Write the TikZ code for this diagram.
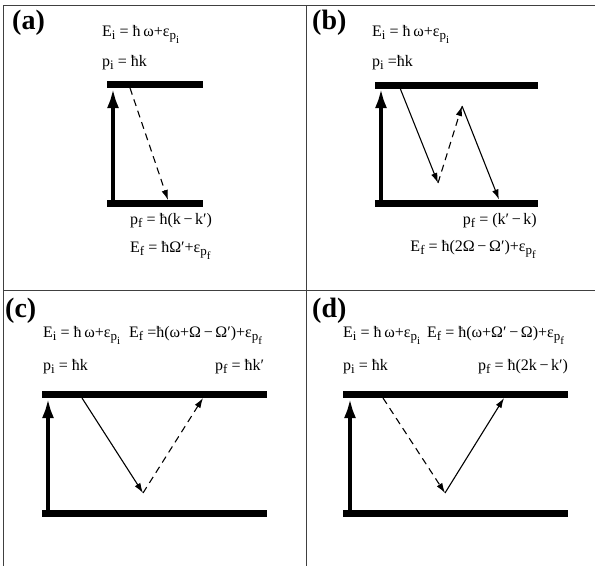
\documentclass[tikz,border=0pt]{standalone}
\usepackage{fontspec}
\setmainfont{Liberation Serif}
\usetikzlibrary{arrows.meta, positioning, calc}

\newcommand{\lsub}[1]{\raisebox{-3pt}{\fontsize{13}{13}\selectfont #1}}
\newcommand{\llsub}[1]{\raisebox{-4pt}{\fontsize{11}{11}\selectfont #1}}

\tikzset{
  levelbar/.style={line width=7pt},
  pump/.style={line width=4.5pt, -{Latex[length=20pt, width=12pt]}},
  emit/.style={line width=1.1pt, -{Latex[length=10pt, width=6.5pt]}},
  spont/.style={emit, dash pattern=on 7pt off 5pt},
  panelline/.style={line width=0.9pt, black!75},
  panellabel/.style={font=\fontsize{28}{28}\selectfont\bfseries, anchor=base west, inner sep=0pt},
  eqn/.style={font=\fontsize{16}{16}\selectfont, anchor=base west, inner sep=0pt},
}

\begin{document}
\begin{tikzpicture}[x=1pt, y=-1pt, line join=round]
        \useasboundingbox (0, 0) rectangle (595, 566);
        \coordinate (fTL) at (3, 5);
        \coordinate (fTR) at (595, 5);
        \coordinate (fBL) at (3, 566);
        \coordinate (fMT) at (306, 5);
        \coordinate (fMB) at (306, 566);
        \coordinate (fML) at (3, 290);
        \coordinate (fMR) at (595, 290);
        \draw[panelline] (fTR) -- (fTL) -- (fBL);
        \draw[panelline] (fMT) -- (fMB);
        \draw[panelline] (fML) -- (fMR);
        % (a)
        \coordinate (aTL) at (107, 84.5);  \coordinate (aTR) at (203, 84.5);
        \coordinate (aBL) at (107, 203.5); \coordinate (aBR) at (203, 203.5);
        \coordinate (aP0) at (113, 200);   \coordinate (aP1) at (113, 88);
        \coordinate (aE0) at (130, 88);    \coordinate (aE1) at (168, 200);
        \draw[levelbar] (aTL) -- (aTR);
        \draw[levelbar] (aBL) -- (aBR);
        \draw[pump] (aP0) -- (aP1);
        \draw[spont] (aE0) -- (aE1);
        \node[panellabel] (alab) at (12, 29) {(a)};
        \node[eqn] (aEi) at (102, 36) {E\lsub{i} = ħ\,ω+ε\lsub{p\llsub{i}}};
        \node[eqn] (api) at (102, 66) {p\lsub{i} = ħk};
        \node[eqn] (apf) at (130, 224) {p\lsub{f} = ħ(k\,−\,k′)};
        \node[eqn] (aEf) at (130, 252) {E\lsub{f} = ħΩ′+ε\lsub{p\llsub{f}}};
        % (b)
        \coordinate (bTL) at (375, 85);  \coordinate (bTR) at (538, 85);
        \coordinate (bBL) at (375, 203); \coordinate (bBR) at (538, 203);
        \coordinate (bP0) at (381, 200); \coordinate (bP1) at (381, 88);
        \coordinate (bE0) at (400, 88);  \coordinate (bE1) at (438, 183);
        \coordinate (bE2) at (462, 106); \coordinate (bE3) at (499, 199.5);
        \draw[levelbar] (bTL) -- (bTR);
        \draw[levelbar] (bBL) -- (bBR);
        \draw[pump] (bP0) -- (bP1);
        \draw[emit] (bE0) -- (bE1);
        \draw[spont] (bE1) -- (bE2);
        \draw[emit] (bE2) -- (bE3);
        \node[panellabel] (blab) at (312, 29) {(b)};
        \node[eqn] (bEi) at (372, 36) {E\lsub{i} = ħ\,ω+ε\lsub{p\llsub{i}}};
        \node[eqn] (bpi) at (372, 66) {p\lsub{i} =ħk};
        \node[eqn, anchor=base east] (bpf) at (537, 224) {p\lsub{f} = (k′\,−\,k)};
        \node[eqn, anchor=base east] (bEf) at (536, 251) {E\lsub{f} = ħ(2Ω\,−\,Ω′)+ε\lsub{p\llsub{f}}};
        % (c)
        \coordinate (cTL) at (42, 394.5);  \coordinate (cTR) at (267, 394.5);
        \coordinate (cBL) at (42, 513.5);  \coordinate (cBR) at (267, 513.5);
        \coordinate (cP0) at (48, 510);    \coordinate (cP1) at (48, 398);
        \coordinate (cE0) at (82, 398);    \coordinate (cE1) at (143, 493);
        \coordinate (cE2) at (203, 398);
        \draw[levelbar] (cTL) -- (cTR);
        \draw[levelbar] (cBL) -- (cBR);
        \draw[pump] (cP0) -- (cP1);
        \draw[emit] (cE0) -- (cE1);
        \draw[spont] (cE1) -- (cE2);
        \node[panellabel] (clab) at (5, 317) {(c)};
        \node[eqn] (cEi) at (43, 337) {E\lsub{i} = ħ\,ω+ε\lsub{p\llsub{i}}};
        \node[eqn] (cEf) at (129, 337) {E\lsub{f} =ħ(ω+Ω\,−\,Ω′)+ε\lsub{p\llsub{f}}};
        \node[eqn] (cpi) at (43, 370) {p\lsub{i} = ħk};
        \node[eqn] (cpf) at (215, 370) {p\lsub{f} = ħk′};
        % (d)
        \coordinate (dTL) at (343, 394.5); \coordinate (dTR) at (568, 394.5);
        \coordinate (dBL) at (343, 513);   \coordinate (dBR) at (568, 513);
        \coordinate (dP0) at (350, 509.5); \coordinate (dP1) at (350, 398);
        \coordinate (dE0) at (383, 398);   \coordinate (dE1) at (445, 493);
        \coordinate (dE2) at (504, 398);
        \draw[levelbar] (dTL) -- (dTR);
        \draw[levelbar] (dBL) -- (dBR);
        \draw[pump] (dP0) -- (dP1);
        \draw[spont] (dE0) -- (dE1);
        \draw[emit] (dE1) -- (dE2);
        \node[panellabel] (dlab) at (312, 317) {(d)};
        \node[eqn] (dEi) at (343, 337) {E\lsub{i} = ħ\,ω+ε\lsub{p\llsub{i}}};
        \node[eqn] (dEf) at (427, 337) {E\lsub{f} = ħ(ω+Ω′\,−\,Ω)+ε\lsub{p\llsub{f}}};
        \node[eqn] (dpi) at (343, 370) {p\lsub{i} = ħk};
        \node[eqn] (dpf) at (478, 370) {p\lsub{f} = ħ(2k\,−\,k′)};
    \end{tikzpicture}
\end{document}
